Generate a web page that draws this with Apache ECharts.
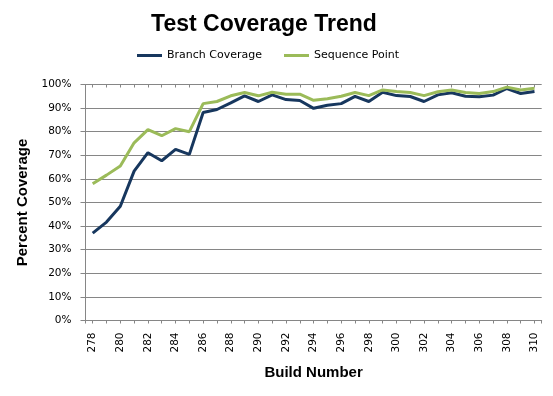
<!DOCTYPE html>
<html>
<head>
<meta charset="utf-8">
<script src="https://cdn.jsdelivr.net/npm/echarts@6/dist/echarts.min.js"></script>
<style>
  html, body { margin: 0; padding: 0; background: #fff; }
  #chart { width: 553px; height: 396px; }
</style>
</head>
<body>
<div id="chart"></div>
<script>
// build numbers on the x axis
const builds = ['278', '279', '280', '281', '282', '283', '284', '285', '286', '287', '288',
  '289', '290', '291', '292', '293', '294', '295', '296', '297', '298', '299', '300',
  '301', '302', '303', '304', '305', '306', '307', '308', '309', '310']

// percent values
const branchCoverage = [37.0, 41.7, 48.4, 63.3, 71.1, 67.7, 72.5, 70.4, 88.1, 89.4, 92.2,
  95.2, 92.8, 95.6, 93.6, 93.2, 89.9, 91.2, 91.9, 95.0, 92.8, 96.7, 95.3,
  94.9, 92.8, 95.6, 96.5, 95.0, 94.8, 95.5, 98.3, 96.2, 97.0]
const sequencePoint = [57.9, 61.6, 65.5, 75.3, 80.9, 78.3, 81.3, 80.0, 91.9, 92.8, 95.2,
  96.6, 95.2, 96.7, 95.9, 95.9, 93.3, 94.0, 95.0, 96.6, 95.3, 97.7, 97.0,
  96.6, 95.3, 96.9, 97.7, 96.6, 96.2, 97.0, 98.9, 97.7, 98.4]

const yMin = 0
const yMax = 100
const yStep = 10

const axisGray = '#868686'
const labelFont = { fontFamily: 'DejaVu Sans', fontSize: 10.5, color: '#000' }

const chart = echarts.init(document.getElementById('chart'))

const option = {
  animation: false,
  title: {
    text: 'Test Coverage Trend',
    left: 259,
    textAlign: 'center',
    top: 8,
    textStyle: { fontFamily: 'Liberation Sans', fontSize: 23, fontWeight: 'bold', color: '#000' }
  },
  legend: {
    left: 132,
    top: 45,
    icon: 'rect',
    itemWidth: 25,
    itemHeight: 3,
    itemGap: 22,
    textStyle: { fontFamily: 'DejaVu Sans', fontSize: 11, color: '#000' },
    data: ['Branch Coverage', 'Sequence Point']
  },
  // grid 0 carries the frame and gridlines, grid 1 the data (inset half a category)
  grid: [
    { left: 85.5, right: 11.3, top: 84.5, bottom: 75.5 },
    { left: 92.7, right: 18.5, top: 84.5, bottom: 75.5 }
  ],
  xAxis: [
    {
      gridIndex: 0,
      type: 'value',
      min: 0,
      max: 1,
      interval: 1,
      axisLine: { show: true, lineStyle: { color: axisGray } },
      axisTick: { show: true, length: 3, lineStyle: { color: axisGray } },
      axisLabel: { show: false },
      splitLine: { show: false }
    },
    {
      gridIndex: 1,
      type: 'category',
      data: builds,
      boundaryGap: false,
      axisLine: { show: false },
      axisTick: { show: true, length: 3, interval: 0, lineStyle: { color: axisGray } },
      axisLabel: Object.assign({ rotate: 90, interval: 1, margin: 12 }, labelFont),
      name: 'Build Number',
      nameLocation: 'middle',
      nameGap: 45,
      nameTextStyle: { fontFamily: 'Liberation Sans', fontSize: 15, fontWeight: 'bold', color: '#000' }
    },
    {
      gridIndex: 1,
      type: 'category',
      data: builds,
      boundaryGap: false,
      axisLine: { show: false },
      axisTick: { show: true, inside: true, length: 3, interval: 0, lineStyle: { color: axisGray } },
      axisLabel: { show: false }
    }
  ],
  yAxis: [
    {
      gridIndex: 0,
      type: 'value',
      min: yMin,
      max: yMax,
      interval: yStep,
      axisLine: { show: true, lineStyle: { color: axisGray } },
      axisTick: { show: true, length: 5, lineStyle: { color: axisGray } },
      axisLabel: Object.assign({ formatter: '{value}%', margin: 14 }, labelFont),
      splitLine: { show: true, lineStyle: { color: axisGray, width: 1 } },
      name: 'Percent Coverage',
      nameLocation: 'middle',
      nameGap: 53,
      nameTextStyle: { fontFamily: 'Liberation Sans', fontSize: 15, fontWeight: 'bold', color: '#000' }
    },
    {
      gridIndex: 1,
      type: 'value',
      min: yMin,
      max: yMax,
      show: false
    }
  ],
  series: [
    {
      name: 'Branch Coverage',
      type: 'line',
      xAxisIndex: 1,
      yAxisIndex: 1,
      data: branchCoverage,
      showSymbol: false,
      symbol: 'none',
      itemStyle: { color: '#17375E' },
      lineStyle: { color: '#17375E', width: 3 }
    },
    {
      name: 'Sequence Point',
      type: 'line',
      xAxisIndex: 1,
      yAxisIndex: 1,
      data: sequencePoint,
      showSymbol: false,
      symbol: 'none',
      itemStyle: { color: '#9BBB59' },
      lineStyle: { color: '#9BBB59', width: 3 }
    }
  ]
}

chart.setOption(option)
</script>
</body>
</html>
